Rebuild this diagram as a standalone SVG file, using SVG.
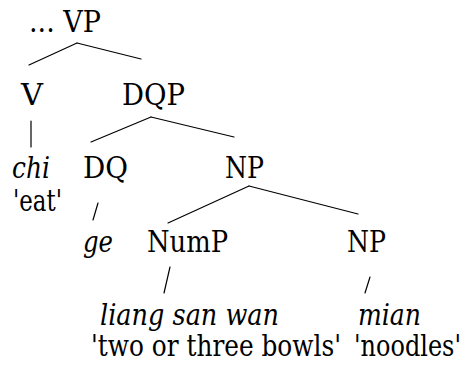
<svg xmlns="http://www.w3.org/2000/svg" width="470" height="367" viewBox="0 0 470 367">
  <style>
    text { font-family: "DejaVu Serif", "Liberation Serif", serif; font-size: 29px; fill: #000; }
    .it { font-style: italic; }
    .edge { stroke: #000; stroke-width: 1.2; fill: none; stroke-linecap: round; }
  </style>
  <rect width="470" height="367" fill="#fff"/>

  <!-- tree branches -->
  <g id="connectors">
    <line class="edge" x1="77" y1="43" x2="29" y2="65"/>
    <line class="edge" x1="77" y1="43" x2="141" y2="59"/>
    <line class="edge" x1="31" y1="121" x2="31" y2="147"/>
    <line class="edge" x1="151" y1="117" x2="91" y2="142"/>
    <line class="edge" x1="151" y1="117" x2="234" y2="137"/>
    <line class="edge" x1="93" y1="220" x2="98" y2="203"/>
    <line class="edge" x1="249" y1="186" x2="168" y2="223"/>
    <line class="edge" x1="249" y1="186" x2="358" y2="214"/>
    <line class="edge" x1="164" y1="293" x2="170" y2="267"/>
    <line class="edge" x1="365" y1="293" x2="370" y2="277"/>
  </g>

  <!-- node labels; widths pinned so the serif face keeps a Times-like set width -->
  <g id="vp"><text x="29" y="32" textLength="72" lengthAdjust="spacingAndGlyphs">... VP</text></g>
  <g id="v"><text x="21" y="105" textLength="22" lengthAdjust="spacingAndGlyphs">V</text></g>
  <g id="dqp"><text x="122" y="105" textLength="63" lengthAdjust="spacingAndGlyphs">DQP</text></g>
  <g id="chi">
    <text class="it" x="12" y="178" textLength="38" lengthAdjust="spacingAndGlyphs">chi</text>
    <text x="13" y="211" textLength="49" lengthAdjust="spacingAndGlyphs">'eat'</text>
  </g>
  <g id="dq"><text x="83" y="178" textLength="45" lengthAdjust="spacingAndGlyphs">DQ</text></g>
  <g id="np-upper"><text x="225" y="178" textLength="39" lengthAdjust="spacingAndGlyphs">NP</text></g>
  <g id="ge"><text class="it" x="83" y="252" textLength="30" lengthAdjust="spacingAndGlyphs">ge</text></g>
  <g id="nump"><text x="147" y="252" textLength="81" lengthAdjust="spacingAndGlyphs">NumP</text></g>
  <g id="np-lower"><text x="347" y="252" textLength="39" lengthAdjust="spacingAndGlyphs">NP</text></g>
  <g id="liang">
    <text class="it" x="100" y="325" textLength="179" lengthAdjust="spacingAndGlyphs">liang san wan</text>
    <text x="91" y="356" textLength="250" lengthAdjust="spacingAndGlyphs">'two or three bowls'</text>
  </g>
  <g id="mian">
    <text class="it" x="358" y="325" textLength="63" lengthAdjust="spacingAndGlyphs">mian</text>
    <text x="354" y="356" textLength="107" lengthAdjust="spacingAndGlyphs">'noodles'</text>
  </g>
</svg>
